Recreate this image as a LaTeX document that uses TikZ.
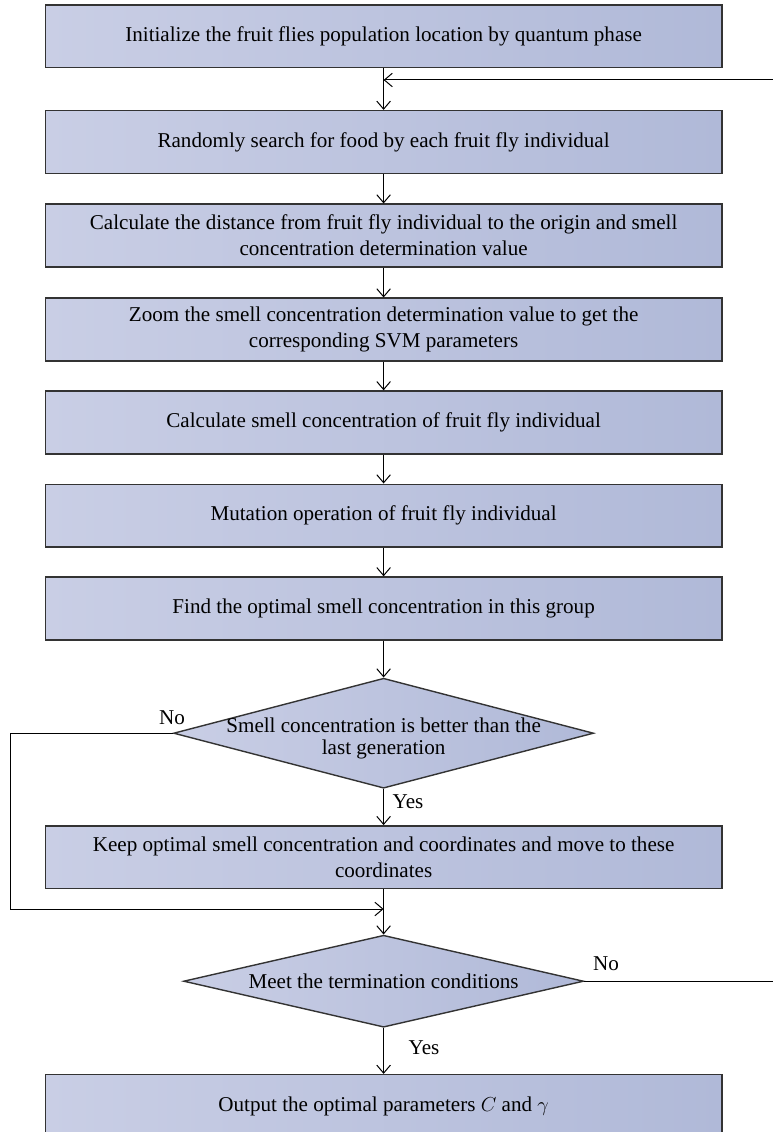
\documentclass[tikz,border=0pt]{standalone}
\usepackage{fontspec}
\setmainfont{Liberation Serif}
\usetikzlibrary{shapes.geometric,arrows.meta}
\definecolor{boxL}{RGB}{201,206,229}
\definecolor{boxR}{RGB}{176,185,216}
\tikzset{
	procbox/.style={rectangle, draw=black!80, line width=0.35mm, left color=boxL, right color=boxR,
		minimum width=16.92cm, minimum height=1.57cm, align=center, inner sep=2pt},
	decision/.style={diamond, draw=black!80, line width=0.35mm, left color=boxL, right color=boxR, inner sep=0pt},
	arr/.style={-{Straight Barb[length=2mm,width=3.4mm]}, line width=0.25mm},
	lbl/.style={inner sep=0pt}
}

\begin{document}
\begin{tikzpicture}[every node/.style={font=\fontsize{15}{18.5}\selectfont}]
			%%%%% START %%%%%
			\useasboundingbox (0, 0) rectangle (19.3, -28.3);
			
			\node[procbox] (init) at (9.59, -0.91) {Initialize the fruit flies population location by quantum phase};
			\node[procbox] (search) at (9.59, -3.55) {Randomly search for food by each fruit fly individual};
			\node[procbox] (dist) at (9.59, -5.89) {Calculate the distance from fruit fly individual to the origin and smell\\concentration determination value};
			\node[procbox] (zoom) at (9.59, -8.24) {Zoom the smell concentration determination value to get the\\corresponding SVM parameters};
			\node[procbox] (smell) at (9.59, -10.56) {Calculate smell concentration of fruit fly individual};
			\node[procbox] (mutate) at (9.59, -12.89) {Mutation operation of fruit fly individual};
			\node[procbox] (best) at (9.59, -15.21) {Find the optimal smell concentration in this group};
			
			\node[decision, minimum width=10.5cm, minimum height=2.75cm,
				label={[align=center, yshift=-0.13cm, font=\fontsize{15}{15.6}\selectfont]center:Smell concentration is better than the\\last generation}] (better) at (9.59, -18.33) {};
			
			\node[procbox] (keep) at (9.59, -21.43) {Keep optimal smell concentration and coordinates and move to these\\coordinates};
			
			\node[decision, minimum width=10cm, minimum height=2.3cm,
				label={[font=\fontsize{15}{15.6}\selectfont]center:Meet the termination conditions}] (stop) at (9.59, -24.53) {};
			
			\node[procbox] (output) at (9.59, -27.65) {Output the optimal parameters $C$ and $\gamma$};
			
			% labels
			\node[lbl] (no1) at (4.3, -17.95) {No};
			\node[lbl] (yes1) at (10.2, -20.03) {Yes};
			\node[lbl] (no2) at (15.15, -24.08) {No};
			\node[lbl] (yes2) at (10.6, -26.2) {Yes};
			
			% straight arrows
			\draw[arr] (init) -- (search);
			\draw[arr] (search) -- (dist);
			\draw[arr] (dist) -- (zoom);
			\draw[arr] (zoom) -- (smell);
			\draw[arr] (smell) -- (mutate);
			\draw[arr] (mutate) -- (best);
			\draw[arr] (best) -- (better);
			\draw[arr] (better) -- (keep);
			\draw[arr] (keep) -- (stop);
			\draw[arr] (stop) -- (output);
			
			% loops
			\coordinate (loopL) at (0.275, -18.33);
			\coordinate (loopin) at (9.59, -22.725);
			\draw[arr] (better.west) -- (loopL) |- (loopin);
			
			\coordinate (fbin) at (19.45, -2.0);
			\coordinate (fbout) at (9.59, -2.0);
			\draw[arr] (stop.east) -| (fbin) -- (fbout);
			
			%%%%% END %%%%%
\end{tikzpicture}
\end{document}
